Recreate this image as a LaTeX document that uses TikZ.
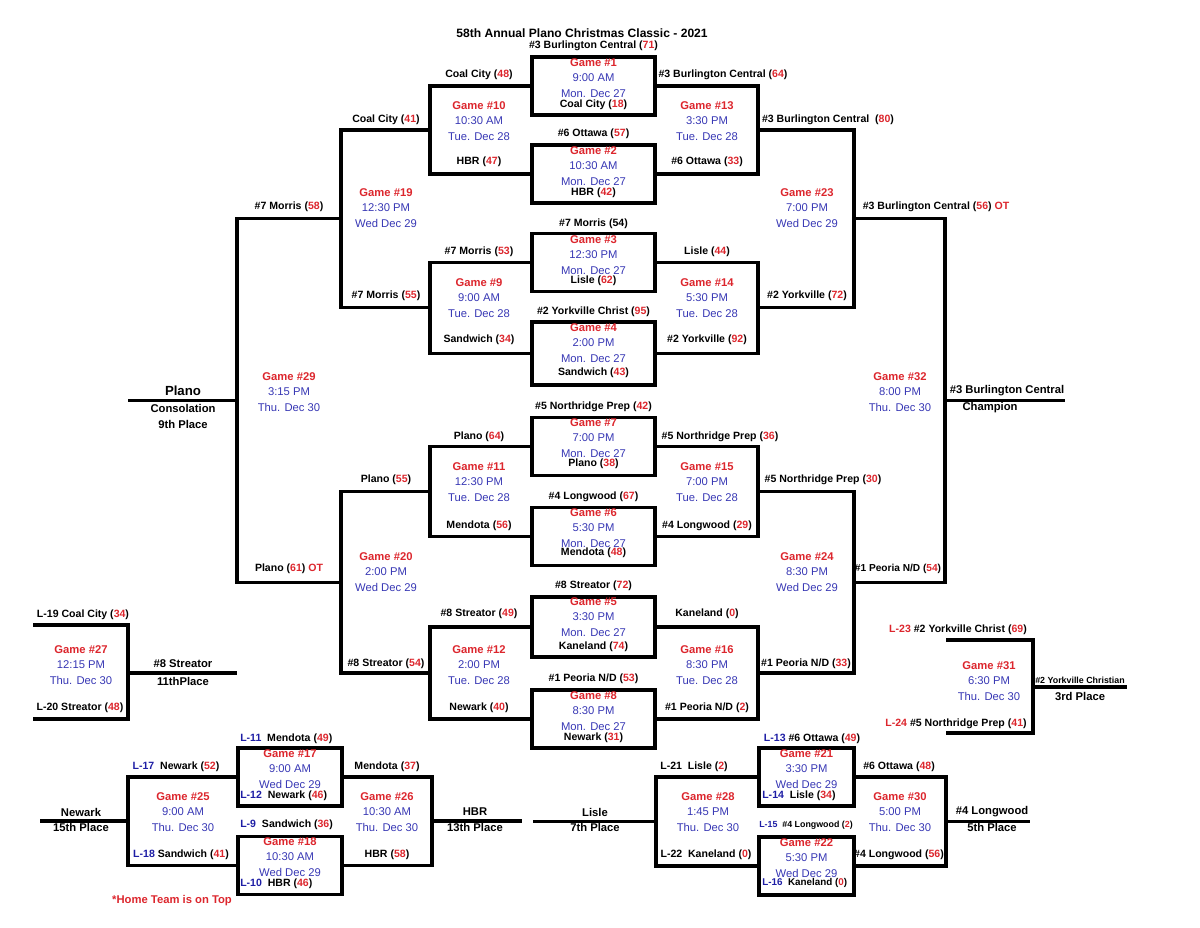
\documentclass[tikz,border=0pt]{standalone}
\usepackage{fontspec}
\setmainfont{Liberation Sans}
\usetikzlibrary{positioning}
\definecolor{gred}{RGB}{220,38,45}
\definecolor{gblue}{RGB}{55,55,180}
\definecolor{lblue}{RGB}{30,30,165}
\tikzstyle{gamebox} = [draw, line width=2.2pt, minimum width=3.075cm, minimum height=1.45cm, inner sep=0pt]
\tikzstyle{bline} = [line width=2.2pt]
\tikzstyle{team} = [inner sep=0pt, font=\fontsize{7.5}{9}\selectfont\bfseries]
\tikzstyle{steam} = [inner sep=0pt, font=\fontsize{6.3}{7}\selectfont\bfseries]
\tikzstyle{info} = [inner sep=0pt, align=center, text=gblue, font=\fontsize{8}{10.9}\selectfont]
\tikzstyle{place} = [inner sep=0pt, font=\fontsize{8}{9}\selectfont\bfseries]
\newcommand{\sco}[1]{(\textcolor{gred}{#1})}
\newcommand{\lno}[1]{\textcolor{lblue}{#1}}
\newcommand{\gm}[3]{\textcolor{gred}{\bfseries Game \##1}\\#2\\#3}

\begin{document}
\begin{tikzpicture}[x=0.025cm, y=-0.025cm]
\useasboundingbox (0,0) rectangle (1200,927);
\node (title) [team, font=\fontsize{8.6}{10}\selectfont\bfseries] at (582,33) {58th Annual Plano Christmas Classic - 2021};

% First round
\node (G1) [gamebox] at (593.5,86) {};
\node (G2) [gamebox] at (593.5,174) {};
\node (G3) [gamebox] at (593.5,262.5) {};
\node (G4) [gamebox, minimum height=1.575cm] at (593.5,353.5) {};
\node (G7) [gamebox] at (593.5,446.5) {};
\node (G6) [gamebox] at (593.5,536.5) {};
\node (G5) [gamebox, minimum height=1.5cm] at (593.5,627) {};
\node (G8) [gamebox] at (593.5,719) {};

\node (g1t) [team] at (593.5,45.5) {\#3 Burlington Central \sco{71}};
\node (g1i) [info] at (593.5,78) {\gm{1}{9:00 AM}{Mon. Dec 27}};
\node (g1b) [team] at (593.5,105) {Coal City \sco{18}};
\node (g2t) [team] at (593.5,134) {\#6 Ottawa \sco{57}};
\node (g2i) [info] at (593.5,166) {\gm{2}{10:30 AM}{Mon. Dec 27}};
\node (g2b) [team] at (593.5,193) {HBR \sco{42}};
\node (g3t) [team] at (593.5,224) {\#7 Morris (54)};
\node (g3i) [info] at (593.5,255) {\gm{3}{12:30 PM}{Mon. Dec 27}};
\node (g3b) [team] at (593.5,281) {Lisle \sco{62}};
\node (g4t) [team] at (593.5,312) {\#2 Yorkville Christ \sco{95}};
\node (g4i) [info] at (593.5,343) {\gm{4}{2:00 PM}{Mon. Dec 27}};
\node (g4b) [team] at (593.5,373) {Sandwich \sco{43}};
\node (g7t) [team] at (593.5,407) {\#5 Northridge Prep \sco{42}};
\node (g7i) [info] at (593.5,438) {\gm{7}{7:00 PM}{Mon. Dec 27}};
\node (g7b) [team] at (593.5,464) {Plano \sco{38}};
\node (g6t) [team] at (593.5,497) {\#4 Longwood \sco{67}};
\node (g6i) [info] at (593.5,528) {\gm{6}{5:30 PM}{Mon. Dec 27}};
\node (g6b) [team] at (593.5,553) {Mendota \sco{48}};
\node (g5t) [team] at (593.5,586) {\#8 Streator \sco{72}};
\node (g5i) [info] at (593.5,617) {\gm{5}{3:30 PM}{Mon. Dec 27}};
\node (g5b) [team] at (593.5,647) {Kaneland \sco{74}};
\node (g8t) [team] at (593.5,679) {\#1 Peoria N/D \sco{53}};
\node (g8i) [info] at (593.5,711) {\gm{8}{8:30 PM}{Mon. Dec 27}};
\node (g8b) [team] at (593.5,738) {Newark \sco{31}};

% Junctions
\coordinate (J10) at (430,130);
\coordinate (J9) at (430,307.5);
\coordinate (J11) at (430,491.5);
\coordinate (J12) at (430,673);
\coordinate (J19) at (341,218.75);
\coordinate (J20) at (341,582.25);
\coordinate (J29) at (237,400.5);
\coordinate (E29) at (128,400.5);
\coordinate (J13) at (758,130);
\coordinate (J14) at (758,307.5);
\coordinate (J15) at (758,491.5);
\coordinate (J16) at (758,673);
\coordinate (J23) at (854,218.75);
\coordinate (J24) at (854,582.25);
\coordinate (J32) at (945,400.5);
\coordinate (E32) at (1065,400.5);

\draw [bline] (G1.west) -| (J10) |- (G2.west);
\draw [bline] (G3.west) -| (J9) |- (G4.west);
\draw [bline] (G7.west) -| (J11) |- (G6.west);
\draw [bline] (G5.west) -| (J12) |- (G8.west);
\draw [bline] (J10) -| (J19) |- (J9);
\draw [bline] (J11) -| (J20) |- (J12);
\draw [bline] (J19) -| (J29) |- (J20);
\draw [bline] (J29) -- (E29);
\draw [bline] (G1.east) -| (J13) |- (G2.east);
\draw [bline] (G3.east) -| (J14) |- (G4.east);
\draw [bline] (G7.east) -| (J15) |- (G6.east);
\draw [bline] (G5.east) -| (J16) |- (G8.east);
\draw [bline] (J13) -| (J23) |- (J14);
\draw [bline] (J15) -| (J24) |- (J16);
\draw [bline] (J23) -| (J32) |- (J24);
\draw [bline] (J32) -- (E32);

% Second round
\node (g10t) [team] at (479,75) {Coal City \sco{48}};
\node (g10i) [info] at (479,121) {\gm{10}{10:30 AM}{Tue. Dec 28}};
\node (g10b) [team] at (479,162) {HBR \sco{47}};
\node (g13t) [team] at (723,75) {\#3 Burlington Central \sco{64}};
\node (g13i) [info] at (707,121) {\gm{13}{3:30 PM}{Tue. Dec 28}};
\node (g13b) [team] at (707,162) {\#6 Ottawa \sco{33}};
\node (g9t) [team] at (479,252) {\#7 Morris \sco{53}};
\node (g9i) [info] at (479,298) {\gm{9}{9:00 AM}{Tue. Dec 28}};
\node (g9b) [team] at (479,340) {Sandwich \sco{34}};
\node (g14t) [team] at (707,252) {Lisle \sco{44}};
\node (g14i) [info] at (707,298) {\gm{14}{5:30 PM}{Tue. Dec 28}};
\node (g14b) [team] at (707,340) {\#2 Yorkville \sco{92}};
\node (g11t) [team] at (479,437) {Plano \sco{64}};
\node (g11i) [info] at (479,482) {\gm{11}{12:30 PM}{Tue. Dec 28}};
\node (g11b) [team] at (479,526) {Mendota \sco{56}};
\node (g15t) [team] at (720,437) {\#5 Northridge Prep \sco{36}};
\node (g15i) [info] at (707,482) {\gm{15}{7:00 PM}{Tue. Dec 28}};
\node (g15b) [team] at (707,526) {\#4 Longwood \sco{29}};
\node (g12t) [team] at (479,614) {\#8 Streator \sco{49}};
\node (g12i) [info] at (479,665) {\gm{12}{2:00 PM}{Tue. Dec 28}};
\node (g12b) [team] at (479,708) {Newark \sco{40}};
\node (g16t) [team] at (707,614) {Kaneland \sco{0}};
\node (g16i) [info] at (707,665) {\gm{16}{8:30 PM}{Tue. Dec 28}};
\node (g16b) [team] at (707,708) {\#1 Peoria N/D \sco{2}};

% Semis and finals
\node (g19t) [team] at (386,120) {Coal City \sco{41}};
\node (g19i) [info] at (386,208) {\gm{19}{12:30 PM}{Wed Dec 29}};
\node (g19b) [team] at (386,296) {\#7 Morris \sco{55}};
\node (g20t) [team] at (386,480) {Plano \sco{55}};
\node (g20i) [info] at (386,572) {\gm{20}{2:00 PM}{Wed Dec 29}};
\node (g20b) [team] at (386,664) {\#8 Streator \sco{54}};
\node (g23t) [team] at (828,120) {\#3 Burlington Central~ \sco{80}};
\node (g23i) [info] at (807,208) {\gm{23}{7:00 PM}{Wed Dec 29}};
\node (g23b) [team] at (807,296) {\#2 Yorkville \sco{72}};
\node (g24t) [team] at (823,480) {\#5 Northridge Prep \sco{30}};
\node (g24i) [info] at (807,572) {\gm{24}{8:30 PM}{Wed Dec 29}};
\node (g24b) [team] at (806,664) {\#1 Peoria N/D \sco{33}};
\node (g29t) [team] at (289,207) {\#7 Morris \sco{58}};
\node (g29i) [info] at (289,392) {\gm{29}{3:15 PM}{Thu. Dec 30}};
\node (g29b) [team] at (289,569) {Plano \sco{61} \textcolor{gred}{OT}};
\node (g32t) [team] at (936,207) {\#3 Burlington Central \sco{56} \textcolor{gred}{OT}};
\node (g32i) [info] at (900,392) {\gm{32}{8:00 PM}{Thu. Dec 30}};
\node (g32b) [team, font=\fontsize{7.2}{9}\selectfont\bfseries] at (898,569) {\#1 Peoria N/D \sco{54}};
\node (plano) [place, font=\fontsize{9.4}{10}\selectfont\bfseries] at (183,391) {Plano};
\node (cons) [place] at (183,408) {Consolation};
\node (ninth) [place] at (183,424) {9th Place};
\node (champ) [place] at (1007,391) {\#3 Burlington Central};
\node (champl) [place] at (990,408) {Champion};

% Game 27 and Game 31
\coordinate (A27) at (33,625);
\coordinate (B27) at (33,719);
\coordinate (J27) at (128,673);
\coordinate (E27) at (237,673);
\draw [bline] (A27) -| (J27) |- (B27);
\draw [bline] (J27) -- (E27);
\node (g27t) [team] at (83,615) {L-19 Coal City \sco{34}};
\node (g27i) [info] at (81,665) {\gm{27}{12:15 PM}{Thu. Dec 30}};
\node (g27b) [team] at (80,708) {L-20 Streator \sco{48}};
\node (str) [place] at (183,664) {\#8 Streator};
\node (strp) [place] at (183,681) {11thPlace};
\coordinate (A31) at (946,640);
\coordinate (B31) at (946,733);
\coordinate (J31) at (1033,687);
\coordinate (E31) at (1127,687);
\draw [bline] (A31) -| (J31) |- (B31);
\draw [bline] (J31) -- (E31);
\node (g31t) [team] at (958,630) {\textcolor{gred}{L-23} \#2 Yorkville Christ \sco{69}};
\node (g31i) [info] at (989,681) {\gm{31}{6:30 PM}{Thu. Dec 30}};
\node (g31b) [team] at (956,724) {\textcolor{gred}{L-24} \#5 Northridge Prep \sco{41}};
\node (york) [steam] at (1080,680) {\#2 Yorkville Christian};
\node (yorkp) [place] at (1080,696) {3rd Place};

% Lower left
\node (G17) [gamebox, minimum width=2.6cm] at (290,777) {};
\node (G18) [gamebox, minimum width=2.6cm] at (290,865.5) {};
\coordinate (J25) at (128,821);
\coordinate (E25) at (40,821);
\coordinate (J26) at (432,821);
\coordinate (E26) at (522,821);
\draw [bline] (G17.west) -| (J25) |- (G18.west);
\draw [bline] (G17.east) -| (J26) |- (G18.east);
\draw [bline] (J25) -- (E25);
\draw [bline] (J26) -- (E26);
\node (g17t) [team, anchor=west] at (240,739) {\lno{L-11}~ Mendota \sco{49}};
\node (g17i) [info] at (290,769) {\gm{17}{9:00 AM}{Wed Dec 29}};
\node (g17b) [team, anchor=west] at (240,796) {\lno{L-12}~ Newark \sco{46}};
\node (g18t) [team, anchor=west] at (240,825) {\lno{L-9}~ Sandwich \sco{36}};
\node (g18i) [info] at (290,857) {\gm{18}{10:30 AM}{Wed Dec 29}};
\node (g18b) [team, anchor=west] at (240,884) {\lno{L-10}~ HBR \sco{46}};
\node (g25t) [team] at (176,767) {\lno{L-17}~ Newark \sco{52}};
\node (g25i) [info] at (183,812) {\gm{25}{9:00 AM}{Thu. Dec 30}};
\node (g25b) [team] at (181,855) {\lno{L-18} Sandwich \sco{41}};
\node (g26t) [team] at (387,767) {Mendota \sco{37}};
\node (g26i) [info] at (387,812) {\gm{26}{10:30 AM}{Thu. Dec 30}};
\node (g26b) [team] at (387,855) {HBR \sco{58}};
\node (newk) [place] at (81,812) {Newark};
\node (newkp) [place] at (81,827) {15th Place};
\node (hbr) [place] at (475,812) {HBR};
\node (hbrp) [place] at (475,827) {13th Place};
\node (home) [place, text=gred] at (172,901) {*Home Team is on Top};

% Lower right
\node (G21) [gamebox, minimum width=2.375cm] at (806.5,777) {};
\node (G22) [gamebox, minimum width=2.375cm] at (806.5,866) {};
\coordinate (J28) at (656,821.5);
\coordinate (E28) at (533,821.5);
\coordinate (J30) at (946,821.5);
\coordinate (E30) at (1030,821.5);
\draw [bline] (G21.west) -| (J28) |- (G22.west);
\draw [bline] (G21.east) -| (J30) |- (G22.east);
\draw [bline] (J28) -- (E28);
\draw [bline] (J30) -- (E30);
\node (g21t) [team] at (812,739) {\lno{L-13} \#6 Ottawa \sco{49}};
\node (g21i) [info] at (806.5,769) {\gm{21}{3:30 PM}{Wed Dec 29}};
\node (g21b) [team, anchor=west] at (762,796) {\lno{L-14}~ Lisle \sco{34}};
\node (g22t) [steam] at (806,825) {\lno{L-15}~ \#4 Longwood \sco{2}};
\node (g22i) [info] at (806.5,858) {\gm{22}{5:30 PM}{Wed Dec 29}};
\node (g22b) [team, anchor=west, font=\fontsize{7}{9}\selectfont\bfseries] at (762,883) {\lno{L-16}~ Kaneland \sco{0}};
\node (g28t) [team] at (694,767) {L-21~ Lisle \sco{2}};
\node (g28i) [info] at (708,812) {\gm{28}{1:45 PM}{Thu. Dec 30}};
\node (g28b) [team] at (706,855) {L-22~ Kaneland \sco{0}};
\node (g30t) [team] at (899,767) {\#6 Ottawa \sco{48}};
\node (g30i) [info] at (900,812) {\gm{30}{5:00 PM}{Thu. Dec 30}};
\node (g30b) [team] at (899,855) {\#4 Longwood \sco{56}};
\node (lis) [place] at (595,812) {Lisle};
\node (lisp) [place] at (595,827) {7th Place};
\node (lng) [place] at (992,812) {\#4 Longwood};
\node (lngp) [place] at (992,827) {5th Place};
\end{tikzpicture}
\end{document}
